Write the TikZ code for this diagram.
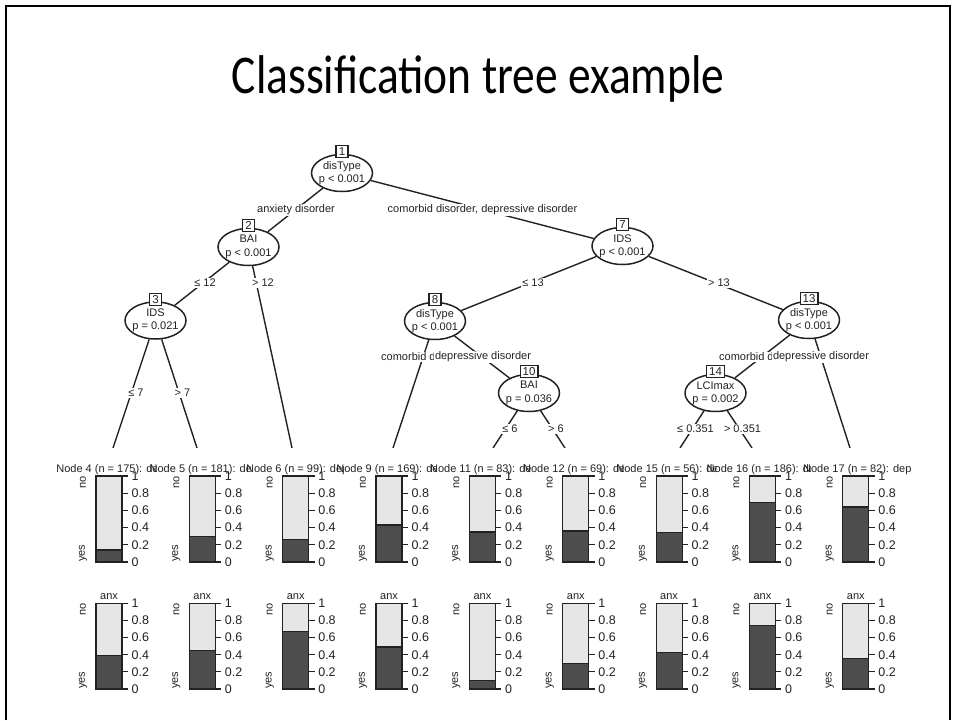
\documentclass[tikz,border=0pt]{standalone}
\usepackage{graphicx}
\usepackage{fontspec}
\setmainfont{Liberation Sans}
\newfontfamily\titlefont{Carlito}
\usetikzlibrary{shapes.geometric,calc}
\definecolor{barDark}{HTML}{4D4D4D}
\definecolor{barLight}{HTML}{E6E6E6}
\definecolor{ink}{HTML}{222222}
\begin{document}
\begin{tikzpicture}[x=1pt,y=-1pt,
  plotfont/.style={font=\fontsize{11}{13.3}\selectfont, text=ink},
  split/.style={ellipse, draw=ink, fill=white, line width=1.5pt, minimum width=61pt, minimum height=37pt, inner xsep=-1.6pt, inner ysep=0pt, align=center, plotfont},
  idbox/.style={draw=ink, fill=white, line width=1.2pt, inner xsep=2.5pt, inner ysep=1pt, minimum width=12pt, minimum height=12pt, font=\fontsize{11.5}{11.5}\selectfont, text=ink},
  edge/.style={draw=ink, line width=1.4pt},
  elab/.style={fill=white, inner sep=1pt, plotfont},
  hdr/.style={inner sep=0pt, plotfont},
  ticklab/.style={anchor=west, inner xsep=3pt, inner ysep=0pt, font=\fontsize{12.5}{13}\selectfont, text=ink},
  sidelab/.style={rotate=90, inner sep=0pt, plotfont},
  axisline/.style={line width=1.2pt, draw=ink},
  barout/.style={draw=ink, line width=1.2pt}
]
\useasboundingbox (0,0) rectangle (955,720);
\fill[white] (0,0) rectangle (955,720);
% slide frame
\draw[line width=2pt] (6,720) -- (6,6) -- (950,6) -- (950,720);
% title
\node[font=\titlefont\fontsize{45.5}{50}\selectfont, anchor=base, inner sep=0pt] (title) at (478,93) {\scalebox{1}[1.2]{Classification tree example}};

% inner nodes
\node[split] (n1) at (342,173) {disType\\p < 0.001};
\node[split] (n2) at (248.5,247) {BAI\\p < 0.001};
\node[split] (n7) at (622.5,246) {IDS\\p < 0.001};
\node[split] (n3) at (155.5,320.5) {IDS\\p = 0.021};
\node[split] (n8) at (435,321) {disType\\p < 0.001};
\node[split] (n13) at (809,320) {disType\\p < 0.001};
\node[split] (n10) at (529,393) {BAI\\p = 0.036};
\node[split] (n14) at (715.5,393) {LCImax\\p = 0.002};

% leaf connection points
\coordinate (L4) at (113,448);
\coordinate (L5) at (197,448);
\coordinate (L6) at (292,448);
\coordinate (L9) at (393,448);
\coordinate (L11) at (493,448);
\coordinate (L12) at (565,448);
\coordinate (L15) at (680,448);
\coordinate (L16) at (752,448);
\coordinate (L17) at (850,448);

% edges
\draw[edge] (n1) -- (n2);
\draw[edge] (n1) -- (n7);
\draw[edge] (n2) -- (n3);
\draw[edge] (n2) -- (L6);
\draw[edge] (n3) -- (L4);
\draw[edge] (n3) -- (L5);
\draw[edge] (n7) -- (n8);
\draw[edge] (n7) -- (n13);
\draw[edge] (n8) -- (L9);
\draw[edge] (n8) -- (n10);
\draw[edge] (n10) -- (L11);
\draw[edge] (n10) -- (L12);
\draw[edge] (n13) -- (n14);
\draw[edge] (n13) -- (L17);
\draw[edge] (n14) -- (L15);
\draw[edge] (n14) -- (L16);

% id boxes
\node[idbox] (b1) at ($(n1.north)+(0,-2)$) {1};
\node[idbox] (b2) at ($(n2.north)+(0,-2)$) {2};
\node[idbox] (b7) at ($(n7.north)+(0,-2)$) {7};
\node[idbox] (b3) at ($(n3.north)+(0,-2)$) {3};
\node[idbox] (b8) at ($(n8.north)+(0,-2)$) {8};
\node[idbox] (b13) at ($(n13.north)+(0,-2)$) {13};
\node[idbox] (b10) at ($(n10.north)+(0,-2)$) {10};
\node[idbox] (b14) at ($(n14.north)+(0,-2)$) {14};

% edge labels
\node[elab] (e12) at (296,210) {anxiety disorder};
\node[elab] (e17) at (482.5,210) {comorbid disorder, depressive disorder};
\node[elab] (e23) at (205,283) {≤ 12};
\node[elab] (e26) at (263,283) {> 12};
\node[elab] (e78) at (533,283) {≤ 13};
\node[elab] (e713) at (719,283) {> 13};
\node[elab] (e34) at (136,393) {≤ 7};
\node[elab] (e35) at (182.5,393) {> 7};
\node[elab, anchor=west] (e89) at (380,357) {comorbid disorder};
\node[elab, anchor=west] (e810) at (433.8,357) {depressive disorder};
\node[elab, anchor=west] (e1314) at (718,357) {comorbid disorder};
\node[elab, anchor=west] (e1317) at (771.8,357) {depressive disorder};
\node[elab] (e1011) at (510,429) {≤ 6};
\node[elab] (e1012) at (556,429) {> 6};
\node[elab] (e1415) at (695.5,429) {≤ 0.351};
\node[elab] (e1416) at (742.5,429) {> 0.351};

% terminal panels
\foreach \i/\id/\n/\pa/\pb in {0/4/175/0.14/0.39, 1/5/181/0.30/0.45, 2/6/99/0.26/0.67, 3/9/169/0.43/0.49, 4/11/83/0.35/0.10, 5/12/69/0.36/0.30, 6/15/56/0.34/0.43, 7/16/186/0.69/0.74, 8/17/82/0.64/0.36}{
  \pgfmathsetmacro\bx{96+93.35*\i}
  \fill[white] (\bx-32.2,448) rectangle (\bx+61.15,712);
  \node[hdr] (h\id) at (\bx+14.5,469.3) {Node \id{} (n = \n): dep};
  % dep bar
  \fill[barLight] (\bx,476) rectangle (\bx+26,562);
  \fill[barDark] (\bx,{562-86*\pa}) rectangle (\bx+26,562);
  \draw[barout] (\bx,{562-86*\pa}) -- (\bx+26,{562-86*\pa});
  \draw[barout] (\bx,476) rectangle (\bx+26,562);
  \foreach \t [count=\c] in {0,0.2,0.4,0.6,0.8,1}{
    \draw[axisline] (\bx+26,{562-86*\t}) -- (\bx+32,{562-86*\t}) node[ticklab] (ta\id-\c) {\t};
  }
  \node[sidelab, anchor=east] (na\id) at (\bx-13,476) {no};
  \node[sidelab, anchor=west] (ya\id) at (\bx-13,562) {yes};
  % anx bar
  \node[hdr] (x\id) at (\bx+13,597) {anx};
  \fill[barLight] (\bx,603.3) rectangle (\bx+26,689);
  \fill[barDark] (\bx,{689-85.7*\pb}) rectangle (\bx+26,689);
  \draw[barout] (\bx,{689-85.7*\pb}) -- (\bx+26,{689-85.7*\pb});
  \draw[barout] (\bx,603.3) rectangle (\bx+26,689);
  \foreach \t [count=\c] in {0,0.2,0.4,0.6,0.8,1}{
    \draw[axisline] (\bx+26,{689-85.7*\t}) -- (\bx+32,{689-85.7*\t}) node[ticklab] (tb\id-\c) {\t};
  }
  \node[sidelab, anchor=east] (nb\id) at (\bx-13,603.3) {no};
  \node[sidelab, anchor=west] (yb\id) at (\bx-13,689) {yes};
}
\end{tikzpicture}
\end{document}
